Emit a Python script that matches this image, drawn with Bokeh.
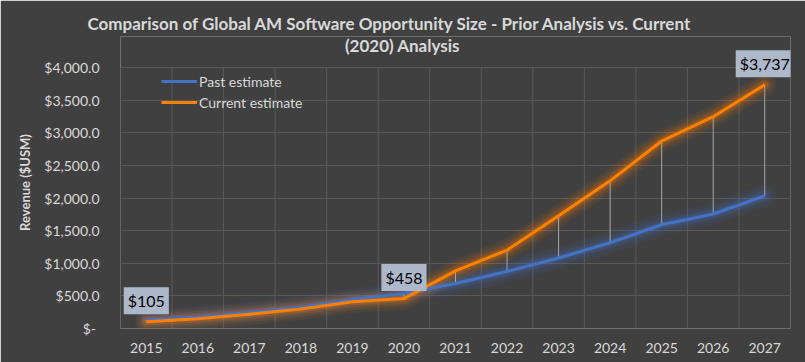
from bokeh.plotting import figure
from bokeh.models import FixedTicker, Label, Legend, LegendItem, Title
from bokeh.embed import file_html
from bokeh.resources import INLINE

# ---- data ----
years = [2015, 2016, 2017, 2018, 2019, 2020, 2021, 2022, 2023, 2024, 2025, 2026, 2027]
past_estimate = [130, 175, 245, 325, 445, 535, 689, 874, 1081, 1314, 1590, 1755, 2032]
current_estimate = [105, 150, 220, 300, 410, 458, 883, 1201, 1729, 2263, 2873, 3246, 3737]
labelled_years = [2015, 2020, 2027]
y_ticks = [0, 500, 1000, 1500, 2000, 2500, 3000, 3500, 4000]
title_lines = ["Comparison of Global AM Software Opportunity Size - Prior Analysis vs. Current",
               "(2020) Analysis"]
series_names = ["Past estimate", "Current estimate"]
y_axis_title = "Revenue ($USM)"

BG = "#404040"
TXT = "#d9d9d9"
GRID = "#595959"
BLUE = "#4472c4"
ORANGE = "#ff7f00"
FONT = "Lato"

# layout (pixels)
W, H = 805, 362
LEFT, RIGHT, TOP, BOTTOM = 120, 15, 36, 34
FRAME_H = H - TOP - BOTTOM
GRID_H = 261  # pixel height of the 0..max-tick region
y_end = y_ticks[-1] * FRAME_H / GRID_H

p = figure(width=W, height=H, output_backend="svg", toolbar_location=None,
           x_range=(years[0] - 0.5, years[-1] + 0.5), y_range=(y_ticks[0], y_end),
           min_border_left=LEFT, min_border_right=RIGHT, min_border_top=TOP,
           min_border_bottom=BOTTOM)
p.background_fill_color = BG
p.border_fill_color = BG
p.outline_line_color = None

# grids
p.xgrid.visible = False
p.ygrid.ticker = FixedTicker(ticks=y_ticks)
p.ygrid.grid_line_color = GRID
p.ygrid.grid_line_width = 1
cat_bounds = [y - 0.5 for y in years] + [years[-1] + 0.5]
p.segment(x0=cat_bounds, y0=[y_ticks[0]] * len(cat_bounds), x1=cat_bounds,
          y1=[y_ticks[-1]] * len(cat_bounds), line_color=GRID, line_width=1)

# axes
p.xaxis.ticker = FixedTicker(ticks=years)
p.xaxis.major_label_overrides = {y: str(y) for y in years}
p.yaxis.ticker = FixedTicker(ticks=list(reversed(y_ticks)))
p.yaxis.bounds = (y_ticks[0], y_ticks[-1])
p.yaxis.major_label_overrides = {t: (f"${t:,.1f}" if t else "$-\u2009\u2009") for t in y_ticks}
for ax in (p.xaxis, p.yaxis):
    ax.axis_line_color = None
    ax.major_tick_line_color = None
    ax.minor_tick_line_color = None
    ax.major_label_text_color = TXT
    ax.major_label_text_font = FONT
    ax.major_label_text_font_size = "14px"
p.xaxis.major_label_standoff = 8
p.yaxis.major_label_standoff = 15
p.yaxis.axis_label = y_axis_title
p.yaxis.axis_label_text_font = FONT
p.yaxis.axis_label_text_font_style = "bold"
p.yaxis.axis_label_text_font_size = "13px"
p.yaxis.axis_label_text_color = TXT
p.yaxis.axis_label_standoff = 8

# glow layers
for vals, col in ((past_estimate, BLUE), (current_estimate, ORANGE)):
    for w, a in ((22, 0.07), (16, 0.09), (11, 0.13), (7, 0.18)):
        p.line(years, vals, line_color=col, line_width=w, line_alpha=a, line_join="round", line_cap="round")

# high-low lines
p.segment(x0=years, y0=past_estimate, x1=years, y1=current_estimate, line_color="#a6a6a6", line_width=1)

r_past = p.line(years, past_estimate, line_color=BLUE, line_width=3, line_join="round")
r_cur = p.line(years, current_estimate, line_color=ORANGE, line_width=3, line_join="round")

legend = Legend(items=[LegendItem(label=series_names[0], renderers=[r_past]),
                       LegendItem(label=series_names[1], renderers=[r_cur])],
                location=(41, FRAME_H - (67 - TOP) - 4 - 41), orientation="vertical")
legend.glyph_width = 36
legend.glyph_height = 20
legend.spacing = 1
legend.padding = 0
legend.margin = 0
legend.label_standoff = 2
legend.label_text_font = FONT
legend.label_text_font_size = "14px"
legend.label_text_color = TXT
legend.background_fill_alpha = 0
legend.border_line_alpha = 0
p.add_layout(legend)

# data labels
for yr in labelled_years:
    v = current_estimate[years.index(yr)]
    p.add_layout(Label(x=yr, y=v, y_offset=21, text=f"${v:,.0f}", text_align="center",
                       text_baseline="middle", text_font=FONT, text_font_size="16px",
                       text_color="#000000", background_fill_color="#adb9ca",
                       background_fill_alpha=1.0, padding=4))

# title: first line in the top border, second line inside the frame
t1 = Title(text=title_lines[0], align="left", offset=87 - LEFT, standoff=6,
           text_font=FONT, text_font_style="bold", text_font_size="17px", text_color=TXT)
p.add_layout(t1, "above")
p.add_layout(Label(x=402 - LEFT, y=FRAME_H - (45 - TOP), x_units="screen", y_units="screen",
                   text=title_lines[1], text_align="center", text_baseline="middle",
                   text_font=FONT, text_font_style="bold", text_font_size="17px",
                   text_color=TXT))

open("out.html", "w").write(file_html(p, INLINE))
